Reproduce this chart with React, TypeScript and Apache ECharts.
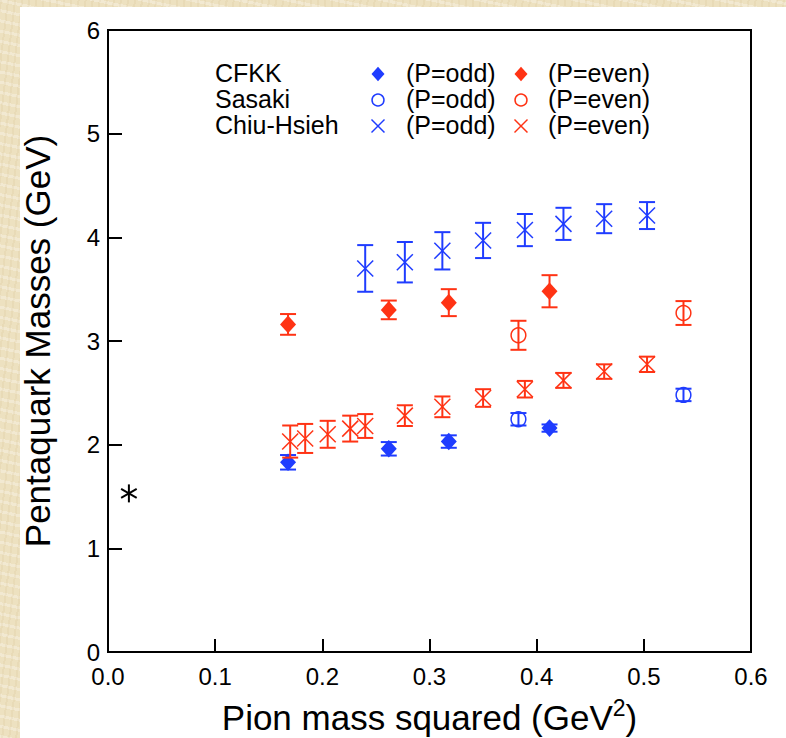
import React, { useEffect, useRef } from "react";
import * as echarts from "echarts";

// Pion mass squared (GeV^2), masses (GeV) and their errors per lattice study
const cfkkOddX = [0.168, 0.262, 0.318, 0.412];
const cfkkOddY = [1.83, 1.96, 2.03, 2.16];
const cfkkOddErr = [0.07, 0.065, 0.06, 0.035];

const cfkkEvenX = [0.168, 0.262, 0.318, 0.412];
const cfkkEvenY = [3.16, 3.3, 3.37, 3.48];
const cfkkEvenErr = [0.1, 0.09, 0.13, 0.155];

const sasakiOddX = [0.383, 0.537];
const sasakiOddY = [2.245, 2.48];
const sasakiOddErr = [0.06, 0.06];

const sasakiEvenX = [0.383, 0.537];
const sasakiEvenY = [3.055, 3.27];
const sasakiEvenErr = [0.14, 0.115];

const chiuOddX = [0.24, 0.277, 0.312, 0.35, 0.389, 0.425, 0.463, 0.503];
const chiuOddY = [3.7, 3.76, 3.87, 3.97, 4.07, 4.13, 4.18, 4.21];
const chiuOddErr = [0.225, 0.195, 0.18, 0.17, 0.155, 0.155, 0.14, 0.13];

const chiuEvenX = [0.17, 0.184, 0.205, 0.226, 0.24, 0.277, 0.312, 0.35, 0.389, 0.425, 0.463, 0.503];
const chiuEvenY = [2.03, 2.06, 2.1, 2.155, 2.18, 2.28, 2.365, 2.45, 2.535, 2.62, 2.705, 2.775];
const chiuEvenErr = [0.155, 0.14, 0.13, 0.125, 0.115, 0.1, 0.1, 0.085, 0.08, 0.072, 0.07, 0.074];

// Experimental Theta+ at the physical pion mass
const thetaX = [0.0195];
const thetaY = [1.53];

const xTicks = [0, 0.1, 0.2, 0.3, 0.4, 0.5, 0.6];
const yTicks = [0, 1, 2, 3, 4, 5, 6];

const rowLabels = ["CFKK", "Sasaki", "Chiu-Hsieh"];
const oddLabel = "(P=odd)";
const evenLabel = "(P=even)";

const BLUE = "#1f3cff";
const RED = "#ff3314";
const FONT = "'Liberation Sans', Arial, Helvetica, sans-serif";

type Kind = "diamond" | "circle" | "cross" | "star";

function markerShapes(kind: Kind, cx: number, cy: number, color: string, s: number, w = 1.5) {
  const line = (x1: number, y1: number, x2: number, y2: number) => ({
    type: "line",
    shape: { x1, y1, x2, y2 },
    style: { stroke: color, lineWidth: w },
  });
  if (kind === "diamond") {
    return [
      {
        type: "polygon",
        shape: { points: [[cx, cy - s * 1.1], [cx + s, cy], [cx, cy + s * 1.1], [cx - s, cy]] },
        style: { fill: color },
      },
    ];
  }
  if (kind === "circle") {
    return [
      {
        type: "circle",
        shape: { cx, cy, r: s * 0.92 },
        style: { fill: "none", stroke: color, lineWidth: w },
      },
    ];
  }
  if (kind === "cross") {
    return [line(cx - s, cy - s, cx + s, cy + s), line(cx - s, cy + s, cx + s, cy - s)];
  }
  const dx = s * Math.cos(Math.PI / 6);
  const dy = s * Math.sin(Math.PI / 6);
  return [
    line(cx, cy - s, cx, cy + s),
    line(cx - dx, cy - dy, cx + dx, cy + dy),
    line(cx - dx, cy + dy, cx + dx, cy - dy),
  ];
}

function errorSeries(
  name: string,
  xs: number[],
  ys: number[],
  errs: number[],
  kind: Kind,
  color: string,
  size = 8,
  width = 1.5
) {
  return {
    type: "custom",
    name,
    clip: false,
    data: xs.map((x, i) => [x, ys[i], errs[i]]),
    encode: { x: 0, y: 1 },
    renderItem: (_params: any, api: any) => {
      const x = api.value(0);
      const y = api.value(1);
      const e = api.value(2);
      const [cx, cy] = api.coord([x, y]);
      const children: any[] = [];
      if (e > 0) {
        const top = api.coord([x, y + e])[1];
        const bot = api.coord([x, y - e])[1];
        const st = { stroke: color, lineWidth: 2 };
        children.push(
          { type: "line", shape: { x1: cx, y1: top, x2: cx, y2: bot }, style: st },
          { type: "line", shape: { x1: cx - 8, y1: top, x2: cx + 8, y2: top }, style: st },
          { type: "line", shape: { x1: cx - 8, y1: bot, x2: cx + 8, y2: bot }, style: st }
        );
      }
      children.push(...markerShapes(kind, cx, cy, color, size, width));
      return { type: "group", children };
    },
  };
}

function legendGraphics() {
  const kinds: Kind[] = ["diamond", "circle", "cross"];
  const rowY = [73, 99, 125];
  const items: any[] = [];
  const txt = (text: string, x: number, y: number) => ({
    type: "text",
    x,
    y,
    style: { text, fill: "#000", font: `25px ${FONT}`, textVerticalAlign: "middle", textAlign: "left" },
  });
  rowLabels.forEach((label, i) => {
    const y = rowY[i];
    items.push(txt(label, 215, y));
    items.push(...markerShapes(kinds[i], 378, y + 1, BLUE, 6.5));
    items.push(txt(oddLabel, 406, y));
    items.push(...markerShapes(kinds[i], 521, y + 1, RED, 6.5));
    items.push(txt(evenLabel, 548, y));
  });
  return items;
}

export default function App() {
  const ref = useRef<HTMLDivElement>(null);

  useEffect(() => {
    document.body.style.margin = "0";
    if (!ref.current) return;
    const chart = echarts.init(ref.current, null, { renderer: "svg" });
    const axisText = { fontFamily: FONT, fontSize: 24, color: "#000" };
    chart.setOption({
      animation: false,
      backgroundColor: "transparent",
      grid: {
        left: 108,
        right: 35,
        top: 30,
        bottom: 86,
        show: true,
        borderColor: "#000",
        borderWidth: 2,
        outerBoundsMode: "none",
      },
      xAxis: {
        type: "value",
        min: xTicks[0],
        max: xTicks[xTicks.length - 1],
        interval: 0.1,
        name: "Pion mass squared (GeV{sup|2})",
        nameLocation: "middle",
        nameGap: 44,
        nameTextStyle: {
          fontFamily: FONT,
          fontSize: 35,
          color: "#000",
          lineHeight: 42,
          rich: { sup: { fontFamily: FONT, fontSize: 23, lineHeight: 22, verticalAlign: "top", color: "#000" } },
        },
        axisLine: { show: true, lineStyle: { color: "#000", width: 2 } },
        axisTick: { show: true, inside: true, length: 13, lineStyle: { color: "#000", width: 2 } },
        axisLabel: { ...axisText, margin: 12, formatter: (v: number) => v.toFixed(1) },
        splitLine: { show: false },
      },
      yAxis: {
        type: "value",
        min: yTicks[0],
        max: yTicks[yTicks.length - 1],
        interval: 1,
        name: "Pentaquark Masses (GeV)",
        nameLocation: "middle",
        nameGap: 53,
        nameTextStyle: { fontFamily: FONT, fontSize: 35, color: "#000" },
        axisLine: { show: true, lineStyle: { color: "#000", width: 2 } },
        axisTick: { show: true, inside: true, length: 14, lineStyle: { color: "#000", width: 2 } },
        axisLabel: { ...axisText, margin: 8 },
        splitLine: { show: false },
      },
      graphic: legendGraphics(),
      series: [
        errorSeries("CFKK odd", cfkkOddX, cfkkOddY, cfkkOddErr, "diamond", BLUE),
        errorSeries("CFKK even", cfkkEvenX, cfkkEvenY, cfkkEvenErr, "diamond", RED),
        errorSeries("Sasaki odd", sasakiOddX, sasakiOddY, sasakiOddErr, "circle", BLUE),
        errorSeries("Sasaki even", sasakiEvenX, sasakiEvenY, sasakiEvenErr, "circle", RED),
        errorSeries("Chiu-Hsieh odd", chiuOddX, chiuOddY, chiuOddErr, "cross", BLUE),
        errorSeries("Chiu-Hsieh even", chiuEvenX, chiuEvenY, chiuEvenErr, "cross", RED),
        errorSeries("Theta+", thetaX, thetaY, [0], "star", "#000", 9, 2),
      ],
    });
    return () => chart.dispose();
  }, []);

  return (
    <div
      style={{
        position: "relative",
        width: 786,
        height: 738,
        overflow: "hidden",
        background:
          "repeating-linear-gradient(97deg, rgba(190,160,100,0.10) 0px, rgba(190,160,100,0.10) 2px, transparent 2px, transparent 7px)," +
          "repeating-linear-gradient(12deg, rgba(255,255,255,0.28) 0px, rgba(255,255,255,0.28) 3px, transparent 3px, transparent 10px)," +
          "#ede1c0",
      }}
    >
      <div style={{ position: "absolute", left: 20, top: 7, right: 0, bottom: 0, background: "#fff" }} />
      <div ref={ref} style={{ position: "absolute", left: 0, top: 0, width: 786, height: 738 }} />
    </div>
  );
}
